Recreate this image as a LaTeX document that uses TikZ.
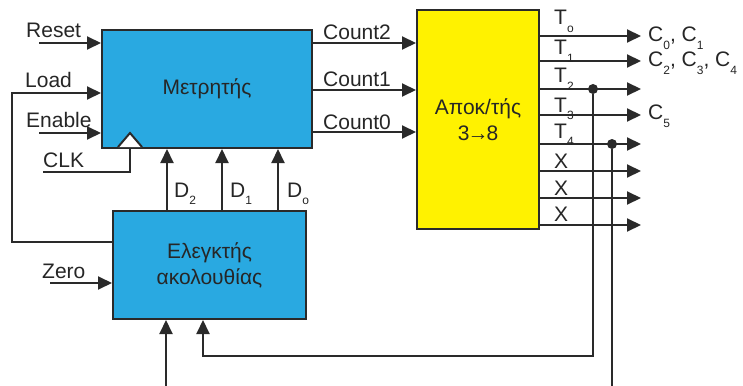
\documentclass[tikz,border=0pt]{standalone}
\usepackage{fontspec}
\setmainfont{Liberation Sans}
\usetikzlibrary{arrows.meta, positioning, calc}
\definecolor{cntblue}{HTML}{29A9E1}
\definecolor{decyellow}{HTML}{FFF200}
\definecolor{wire}{HTML}{2A2A2A}
\newcommand{\lsub}[1]{\raisebox{-0.38em}{\fontsize{12}{12}\selectfont #1}}
\tikzset{
    box/.style={draw=wire, line width=2pt, fill=cntblue, align=center, text=black!85, inner sep=0pt, font=\fontsize{21}{26}\selectfont},
    arrow/.style={-{Triangle[length=14pt, width=13pt]}, line width=2pt, wire},
    wireline/.style={line width=2pt, wire},
    lbl/.style={anchor=base west, inner sep=0pt, text=black!85, font=\fontsize{21}{25}\selectfont},
    dot/.style={circle, fill=wire, inner sep=0pt, minimum size=10pt}
}

\begin{document}
\begin{tikzpicture}[x=1pt, y=-1pt]
        \useasboundingbox (0,0) rectangle (743,385);
        \node [box, minimum width=210pt, minimum height=118pt] (cnt) at (207,89) {Μετρητής};
        \node [box, minimum width=193pt, minimum height=108pt] (ctl) at (209.5,265) {Ελεγκτής\\ακολουθίας};
        \node [box, fill=decyellow, minimum width=122pt, minimum height=219pt] (dec) at (478,119.5) {Αποκ/τής\\3\kern-2pt→\kern-2pt8};

        % counter inputs
        \draw [arrow] (39,43) -- (cnt.west |- 0,43);
        \draw [arrow] (39,133) -- (cnt.west |- 0,133);
        \draw [arrow] (ctl.west |- 0,242) -- ++(-100,0) |- (cnt.west |- 0,93);
        \draw [wireline, fill=white, line join=miter] (118,147) -- (130,133) -- (142,147);
        \draw [wireline] (cnt.south -| 130,0) -- (130,172) -- (43,172);
        \node [lbl] (reset) at (26,38) {Reset};
        \node [lbl] (load) at (25,88) {Load};
        \node [lbl] (enable) at (26,127) {Enable};
        \node [lbl] (clk) at (43,167) {CLK};

        % counter to decoder
        \draw [arrow] (cnt.east |- 0,43) -- (dec.west |- 0,43);
        \draw [arrow] (cnt.east |- 0,90) -- (dec.west |- 0,90);
        \draw [arrow] (cnt.east |- 0,132) -- (dec.west |- 0,132);
        \node [lbl] (c2) at (323,40) {Count2};
        \node [lbl] (c1) at (323,87) {Count1};
        \node [lbl] (c0) at (323,129) {Count0};

        % controller to counter
        \draw [arrow] (ctl.north -| 167,0) -- (cnt.south -| 167,0);
        \draw [arrow] (ctl.north -| 222,0) -- (cnt.south -| 222,0);
        \draw [arrow] (ctl.north -| 278,0) -- (cnt.south -| 278,0);
        \node [lbl] (d2) at (174,197) {D\lsub{2}};
        \node [lbl] (d1) at (230,197) {D\lsub{1}};
        \node [lbl] (d0) at (287,197) {D\lsub{o}};

        % zero input
        \draw [arrow] (50,283) -- (ctl.west |- 0,283);
        \node [lbl] (zero) at (42,278) {Zero};

        % decoder outputs
        \coordinate (o0) at (641,36);
        \coordinate (o1) at (641,61);
        \coordinate (o2) at (641,89);
        \coordinate (o3) at (641,115);
        \coordinate (o4) at (641,144);
        \coordinate (o5) at (641,171);
        \coordinate (o6) at (641,198);
        \coordinate (o7) at (641,225);
        \draw [arrow] (dec.east |- o0) -- (o0);
        \draw [arrow] (dec.east |- o1) -- (o1);
        \draw [arrow] (dec.east |- o2) -- (o2);
        \draw [arrow] (dec.east |- o3) -- (o3);
        \draw [arrow] (dec.east |- o4) -- (o4);
        \draw [arrow] (dec.east |- o5) -- (o5);
        \draw [arrow] (dec.east |- o6) -- (o6);
        \draw [arrow] (dec.east |- o7) -- (o7);
        \node [lbl] (t0) at (554,25) {T\lsub{o}};
        \node [lbl] (t1) at (554,55) {T\lsub{1}};
        \node [lbl] (t2) at (554,83) {T\lsub{2}};
        \node [lbl] (t3) at (554,112) {T\lsub{3}};
        \node [lbl] (t4) at (554,138) {T\lsub{4}};
        \node [lbl] (x5) at (554,168) {X};
        \node [lbl] (x6) at (554,195) {X};
        \node [lbl] (x7) at (554,221) {X};
        \node [lbl] (out0) at (648,42) {C\lsub{0}, C\lsub{1}};
        \node [lbl] (out1) at (648,67) {C\lsub{2}, C\lsub{3}, C\lsub{4}};
        \node [lbl] (out3) at (648,120) {C\lsub{5}};

        % feedback to controller
        \node [dot] (j2) at (593,89) {};
        \node [dot] (j4) at (612,144) {};
        \coordinate (fb) at (593,356);
        \coordinate (ext4) at (612,386);
        \coordinate (ext0) at (166,386);
        \draw [arrow] (j2) -- (fb) -| (ctl.south -| 203,0);
        \draw [wireline] (j4) -- (ext4);
        \draw [arrow] (ext0) -- (ctl.south -| 166,0);
    \end{tikzpicture}
\end{document}
